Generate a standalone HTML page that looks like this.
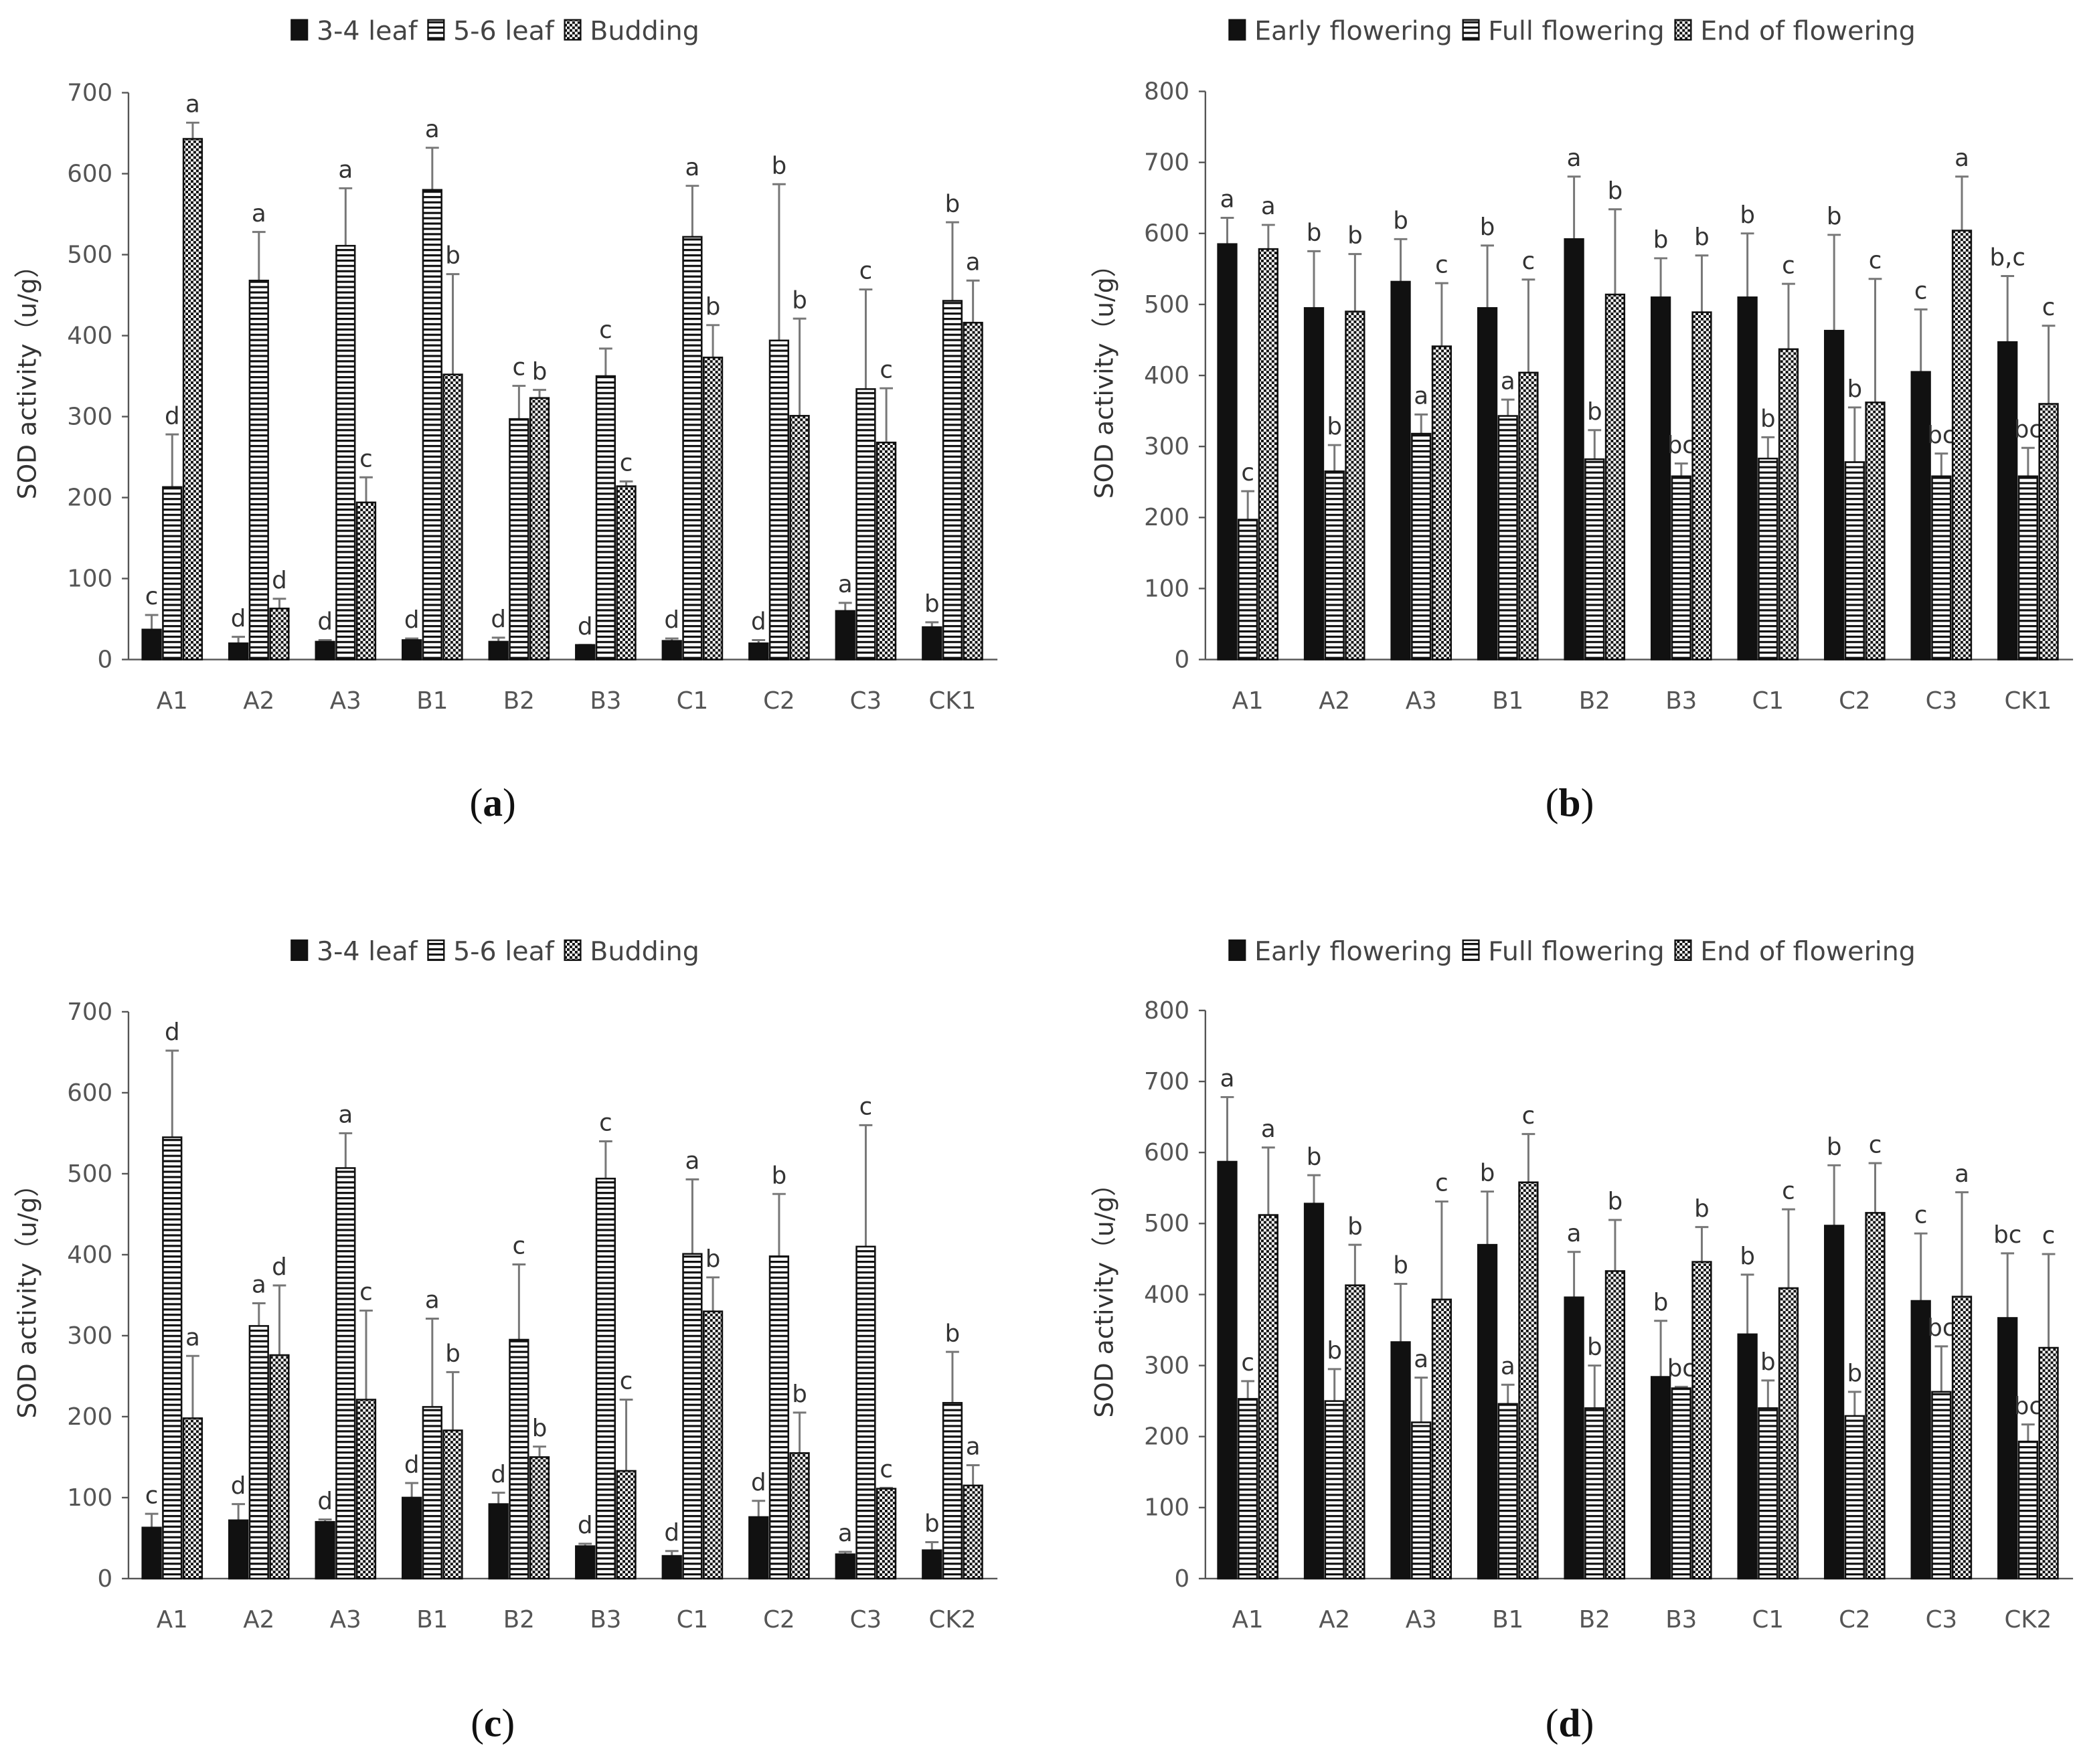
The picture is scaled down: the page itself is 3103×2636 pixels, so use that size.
<!DOCTYPE html>
<html><head><meta charset="utf-8"><style>
html,body{margin:0;padding:0;background:#fff;}
svg{display:block;font-family:"DejaVu Sans","Liberation Sans",sans-serif;}
</style></head><body>
<svg id="chart" width="3103" height="2636" viewBox="0 0 1568 1332" xmlns="http://www.w3.org/2000/svg">
<defs>
<pattern id="hstripe" width="6" height="4" patternUnits="userSpaceOnUse"><rect width="6" height="4" fill="#fff"/><rect y="0" width="6" height="1.6" fill="#111"/></pattern>
<pattern id="dots" width="4" height="4" patternUnits="userSpaceOnUse"><rect width="4" height="4" fill="#fff"/><rect width="2" height="2" fill="#111"/><rect x="2" y="2" width="2" height="2" fill="#111"/></pattern>
</defs>
</svg>
<script>
const catsA=["A1","A2","A3","B1","B2","B3","C1","C2","C3","CK1"];
const catsC=["A1","A2","A3","B1","B2","B3","C1","C2","C3","CK2"];
const legendA=["3-4 leaf","5-6 leaf","Budding"];
const legendB=["Early flowering","Full flowering","End of flowering"];
const a_s1=[37,20,22,24,22,18,23,20,60,40];
const a_e1=[55,28,24,26,27,18,26,24,70,46];
const a_s2=[213,468,511,580,297,350,522,394,334,443];
const a_e2=[278,528,582,632,338,384,585,587,457,540];
const a_s3=[643,63,194,352,323,214,373,301,268,416];
const a_e3=[663,75,225,476,333,220,413,421,335,468];
const b_s1=[585,495,532,495,592,510,510,463,405,447];
const b_e1=[622,575,592,583,680,565,600,598,493,540];
const b_s2=[197,265,318,343,282,258,283,278,258,258];
const b_e2=[237,302,345,366,323,276,313,355,290,298];
const b_s3=[578,490,441,404,514,489,437,362,604,360];
const b_e3=[612,571,530,535,634,569,529,536,680,470];
const c_s1=[63,72,70,100,92,40,28,76,30,35];
const c_e1=[80,92,73,118,106,43,34,96,33,45];
const c_s2=[545,312,507,212,295,494,401,398,410,217];
const c_e2=[652,340,550,321,388,540,493,475,560,280];
const c_s3=[198,276,221,183,150,133,330,155,111,115];
const c_e3=[275,362,331,255,163,221,372,205,112,140];
const d_s1=[587,528,333,470,396,284,344,497,391,367];
const d_e1=[678,568,415,545,460,363,428,582,486,458];
const d_s2=[253,250,220,246,240,268,240,229,263,193];
const d_e2=[278,295,283,273,300,270,279,263,327,217];
const d_s3=[512,413,393,558,433,446,409,515,397,325];
const d_e3=[607,470,531,626,505,495,520,585,544,457];
const letA1=["c","d","d","d","d","d","d","d","a","b"];
const letA2=["d","a","a","a","c","c","a","b","c","b"];
const letA3=["a","d","c","b","b","c","b","b","c","a"];
const letB1=["a","b","b","b","a","b","b","b","c","b,c"];
const letB2=["c","b","a","a","b","bc","b","b","bc","bc"];
const letB3=["a","b","c","c","b","b","c","c","a","c"];
const letD1=["a","b","b","b","a","b","b","b","c","bc"];
const ticksA=[0,100,200,300,400,500,600,700];
const ticksB=[0,100,200,300,400,500,600,700,800];

const NS="http://www.w3.org/2000/svg";
const svg=document.getElementById('chart');
function mk(tag,attrs,parent,text){const e=document.createElementNS(NS,tag);for(const k in attrs)e.setAttribute(k,attrs[k]);if(text!==undefined)e.textContent=text;(parent||svg).appendChild(e);return e;}
const fills=["#111","url(#hstripe)","url(#dots)"];

function panel(cfg){
  const g=mk('g',{});
  
  
  const ax=cfg.ax, y0=cfg.y0, ytop=cfg.ytop, ymax=cfg.ticks[cfg.ticks.length-1];
  const y=v=>y0-(v/ymax)*(y0-ytop);
  const xc=i=>cfg.x0+i*65.45;
  const lg=mk('g',{},g);
  
  
  let lx=cfg.legX;
  cfg.legend.forEach((t,k)=>{
    const r=mk('rect',{x:lx,y:cfg.legY-8,width:12,height:15,fill:fills[k],stroke:'#111','stroke-width':1.2},lg);
    
    
    const tx=mk('text',{x:lx+19,y:cfg.legY+7,'font-size':20,fill:'#444'},lg,t);
    
    
    lx+=19+tx.getComputedTextLength()+8;
  });
  const yl=mk('line',{x1:ax,y1:y0,x2:ax,y2:ytop,stroke:'#555','stroke-width':1.2},g);
  
  
  const xl=mk('line',{x1:ax,y1:y0,x2:cfg.xend,y2:y0,stroke:'#555','stroke-width':1.2},g);
  
  
  cfg.ticks.forEach(t=>{
    mk('line',{x1:ax-5,y1:y(t),x2:ax,y2:y(t),stroke:'#555','stroke-width':1.2},g);
    const tl=mk('text',{x:ax-12,y:y(t)+6,'font-size':18,fill:'#555','text-anchor':'end'},g,t);
    
    
  });
  const yt=mk('text',{x:0,y:0,'font-size':19,fill:'#333','text-anchor':'middle',transform:`translate(${ax-70},${(y0+ytop)/2}) rotate(-90)`},g,'SOD activity（u/g）');
  
  
  cfg.cats.forEach((c,i)=>{
    const cl=mk('text',{x:xc(i),y:y0+37,'font-size':18,fill:'#555','text-anchor':'middle'},g,c);
    
    
  });
  cfg.series.forEach((s,k)=>{
    s.vals.forEach((v,i)=>{
      const cx=xc(i)+(k-1)*15.5;
      const el=mk('line',{x1:cx,y1:y(v),x2:cx,y2:y(s.err[i]),stroke:'#777','stroke-width':1.5},g);
      
      
      mk('line',{x1:cx-5,y1:y(s.err[i]),x2:cx+5,y2:y(s.err[i]),stroke:'#777','stroke-width':1.5},g);
      const b=mk('rect',{x:cx-7,y:y(v),width:14,height:y0-y(v),fill:fills[k],stroke:'#111','stroke-width':1.3},g);
      
      
      const lt=mk('text',{x:cx,y:y(s.err[i])-8,'font-size':18,fill:'#333','text-anchor':'middle'},g,s.lets[i]);
      
      
    });
  });
  const cap=mk('text',{x:cfg.capX,y:cfg.capY,'font-size':30,fill:'#111','text-anchor':'middle','font-family':'Liberation Serif, serif'},g);
  
  
  mk('tspan',{},cap,'(');
  mk('tspan',{'font-weight':'bold'},cap,cfg.id);
  mk('tspan',{},cap,')');
}
panel({id:'a',ax:97,y0:498,ytop:70,ticks:ticksA,x0:130,xend:753,cats:catsA,legend:legendA,legX:220,legY:23,capX:372,capY:616,
  series:[{vals:a_s1,err:a_e1,lets:letA1},{vals:a_s2,err:a_e2,lets:letA2},{vals:a_s3,err:a_e3,lets:letA3}]});
panel({id:'b',ax:910,y0:498,ytop:69,ticks:ticksB,x0:942,xend:1565,cats:catsA,legend:legendB,legX:928,legY:23,capX:1185,capY:616,
  series:[{vals:b_s1,err:b_e1,lets:letB1},{vals:b_s2,err:b_e2,lets:letB2},{vals:b_s3,err:b_e3,lets:letB3}]});
panel({id:'c',ax:97,y0:1192,ytop:764,ticks:ticksA,x0:130,xend:753,cats:catsC,legend:legendA,legX:220,legY:718,capX:372,capY:1311,
  series:[{vals:c_s1,err:c_e1,lets:letA1},{vals:c_s2,err:c_e2,lets:letA2},{vals:c_s3,err:c_e3,lets:letA3}]});
panel({id:'d',ax:910,y0:1192,ytop:763,ticks:ticksB,x0:942,xend:1565,cats:catsC,legend:legendB,legX:928,legY:718,capX:1185,capY:1311,
  series:[{vals:d_s1,err:d_e1,lets:letD1},{vals:d_s2,err:d_e2,lets:letB2},{vals:d_s3,err:d_e3,lets:letB3}]});
</script>
</body></html>
